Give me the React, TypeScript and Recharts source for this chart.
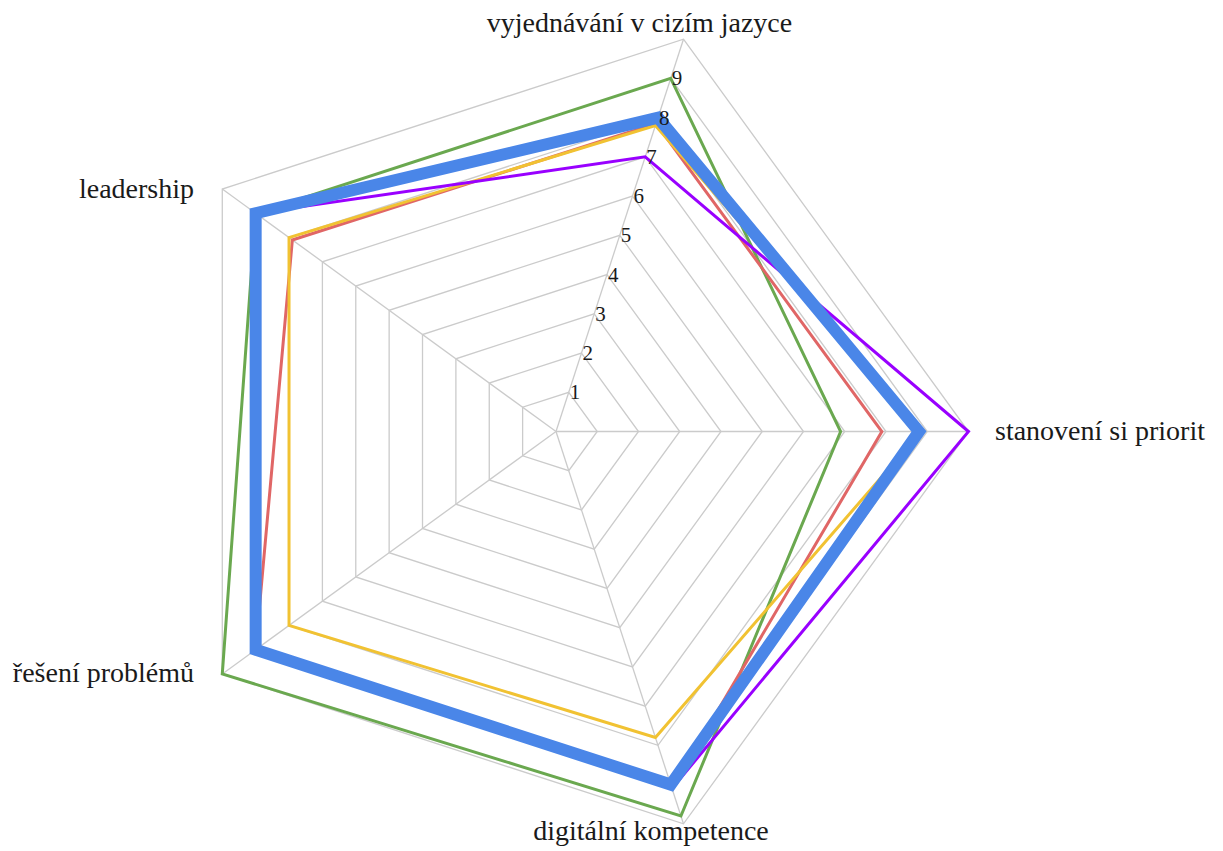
import React from 'react';
import { RadarChart, Radar, PolarGrid, PolarAngleAxis, PolarRadiusAxis } from 'recharts';

const categories = [
  'vyjednávání v cizím jazyce',
  'stanovení si priorit',
  'digitální kompetence',
  'řešení problémů',
  'leadership',
];

const greenValues = [9, 6.9, 9.8, 10, 9];
const redValues = [7.85, 7.9, 9.1, 9, 7.9];
const yellowValues = [7.8, 8.85, 7.8, 8, 8];
const purpleValues = [7, 10, 9.1, 9, 9];
const blueValues = [8, 8.8, 9, 9, 9];

const radiusDomain = [0, 10];
const radiusTickCount = 11;
const hiddenRadiusTicks = [0, 10];

const data = categories.map((skill, i) => ({
  skill,
  green: greenValues[i],
  red: redValues[i],
  yellow: yellowValues[i],
  purple: purpleValues[i],
  blue: blueValues[i],
}));

const FONT = '"Liberation Serif", "Times New Roman", serif';

const labelStyle: Record<string, { dx: number; dy: number; anchor: 'start' | 'middle' | 'end' }> = {
  'vyjednávání v cizím jazyce': { dx: -46.5, dy: 0.5, anchor: 'middle' },
  'stanovení si priorit': { dx: 18.5, dy: 8.5, anchor: 'start' },
  'digitální kompetence': { dx: -35, dy: 8.6, anchor: 'middle' },
  'řešení problémů': { dx: -21.8, dy: 3.3, anchor: 'end' },
  'leadership': { dx: -21.8, dy: 13.7, anchor: 'end' },
};

function AngleTick(props: any) {
  const { x, y, payload } = props;
  const s = labelStyle[payload.value] || { dx: 0, dy: 0, anchor: 'middle' };
  return (
    <text x={x + s.dx} y={y + s.dy} textAnchor={s.anchor} fontSize={28} fontFamily={FONT} fill="#1a1a1a">
      {payload.value}
    </text>
  );
}

function RadiusTick(props: any) {
  const { x, y, payload } = props;
  if (hiddenRadiusTicks.includes(payload.value)) return <g />;
  return (
    <text x={x + 1} y={y + 7} textAnchor="start" fontSize={21} fontFamily={FONT} fill="#1a1a1a">
      {payload.value}
    </text>
  );
}

export default function App() {
  return (
    <div style={{ position: 'absolute', left: 0, top: 0, width: 1223, height: 851, background: '#ffffff' }}>
      <RadarChart
        width={1223}
        height={851}
        data={data}
        cx={556}
        cy={431.5}
        outerRadius={412.5}
        startAngle={72}
        endAngle={-288}
        margin={{ top: 0, right: 0, bottom: 0, left: 0 }}
      >
        <PolarGrid gridType="polygon" stroke="#cbcbcb" strokeWidth={1.3} />
        <PolarAngleAxis dataKey="skill" tick={<AngleTick />} axisLine={false} tickLine={false} />
        <PolarRadiusAxis
          angle={72}
          type="number"
          domain={radiusDomain}
          tickCount={radiusTickCount}
          axisLine={false}
          tickLine={false}
          tick={<RadiusTick />}
        />
        <Radar dataKey="green" stroke="#6aa84f" strokeWidth={3} fill="none" fillOpacity={0} dot={false} isAnimationActive={false} />
        <Radar dataKey="red" stroke="#e06666" strokeWidth={3} fill="none" fillOpacity={0} dot={false} isAnimationActive={false} />
        <Radar dataKey="yellow" stroke="#f1c232" strokeWidth={3} fill="none" fillOpacity={0} dot={false} isAnimationActive={false} />
        <Radar dataKey="purple" stroke="#9900ff" strokeWidth={3} fill="none" fillOpacity={0} dot={false} isAnimationActive={false} />
        <Radar dataKey="blue" stroke="#4a86e8" strokeWidth={12} fill="none" fillOpacity={0} dot={false} isAnimationActive={false} />
      </RadarChart>
    </div>
  );
}
